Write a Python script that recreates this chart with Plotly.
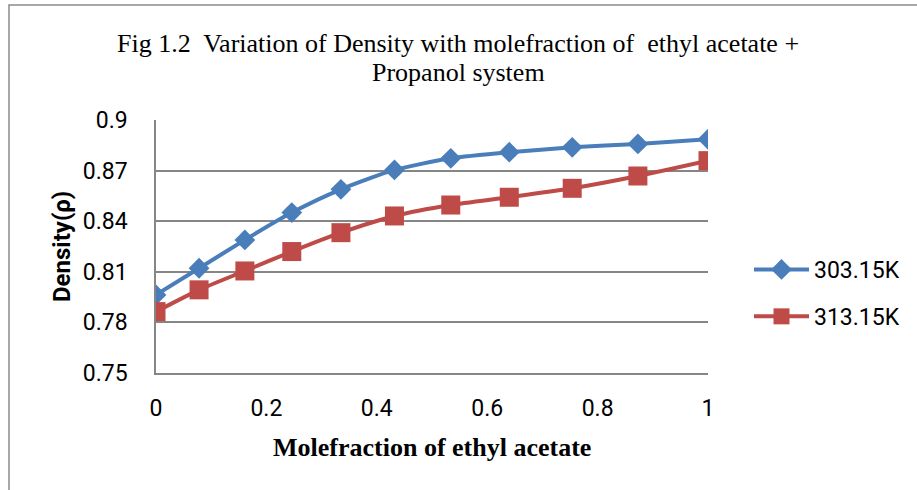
import plotly.graph_objects as go

mole_fraction = [0, 0.078, 0.161, 0.246, 0.335, 0.432, 0.534, 0.640, 0.754, 0.873, 1.0]
density_303 = [0.7963, 0.8121, 0.8289, 0.8451, 0.8589, 0.8704, 0.8773, 0.8809, 0.8838, 0.8858, 0.8886]
density_313 = [0.7864, 0.7993, 0.8105, 0.8220, 0.8332, 0.8431, 0.8496, 0.8542, 0.8595, 0.8668, 0.8759]
series_names = ["303.15K", "313.15K"]
y_ticks = [0.75, 0.78, 0.81, 0.84, 0.87, 0.9]
y_tick_text = ["0.75", "0.78", "0.81", "0.84", "0.87", "0.9"]
x_ticks = [0, 0.2, 0.4, 0.6, 0.8, 1]
x_tick_text = ["0", "0.2", "0.4", "0.6", "0.8", "1"]

blue = "#4A7EBB"
red = "#BE4B48"
grid = "#868686"

# page body margin is removed; target plot area on screen: x 156..708, y 120..373
OFF = 0
L, R, T, B = 156, 708, 120, 373
W, H = R - L, B - T


def px(x):
    return (x - L) / W


def py(y):
    return (B - y) / H


fig = go.Figure()
fig.add_trace(go.Scatter(
    x=mole_fraction, y=density_303, name=series_names[0], mode="lines+markers",
    legendgroup="a",
    line=dict(color=blue, width=4, shape="spline", smoothing=0.6),
    marker=dict(symbol="diamond", size=16, color=blue),
))
fig.add_trace(go.Scatter(
    x=mole_fraction, y=density_313, name=series_names[1], mode="lines+markers",
    legendgroup="b",
    line=dict(color=red, width=4, shape="spline", smoothing=0.6),
    marker=dict(symbol="square", size=19, color=red),
))

fig.update_layout(
    width=917, height=490,
    margin=dict(l=L - OFF, r=917 - R + OFF, t=T - OFF, b=490 - B + OFF),
    paper_bgcolor="white", plot_bgcolor="white",
    showlegend=True,
    legend=dict(
        x=px(749), y=py(293), xanchor="left", yanchor="middle",
        font=dict(family="Roboto", size=23, color="#000"),
        itemwidth=55, traceorder="grouped", tracegroupgap=14,
        bgcolor="rgba(0,0,0,0)",
    ),
    xaxis=dict(
        range=[0, 1], tickvals=x_ticks, ticktext=x_tick_text,
        showgrid=False, zeroline=False,
        showline=True, linecolor=grid, linewidth=1.5,
        ticks="", ticklabelstandoff=14,
        tickfont=dict(family="Roboto", size=23, color="#000"),
    ),
    yaxis=dict(
        range=[0.75, 0.9], tickvals=y_ticks, ticktext=y_tick_text,
        showgrid=True, gridcolor=grid, gridwidth=1.5, zeroline=False,
        showline=True, linecolor=grid, linewidth=1.5,
        ticks="", ticklabelstandoff=22,
        tickfont=dict(family="Roboto", size=23, color="#000"),
    ),
    annotations=[
        dict(text="Fig 1.2  Variation of Density with molefraction of  ethyl acetate +",
             xref="paper", yref="paper", x=px(458), y=py(44),
             xanchor="center", yanchor="middle", showarrow=False,
             font=dict(family="Liberation Serif", size=26, color="#000")),
        dict(text="Propanol system",
             xref="paper", yref="paper", x=px(458), y=py(72),
             xanchor="center", yanchor="middle", showarrow=False,
             font=dict(family="Liberation Serif", size=26, color="#000")),
        dict(text="<b>Molefraction of ethyl acetate</b>",
             xref="paper", yref="paper", x=px(432), y=py(447),
             xanchor="center", yanchor="middle", showarrow=False,
             font=dict(family="Liberation Serif", size=26, color="#000")),
        dict(text="<b>Density(ρ)</b>",
             xref="paper", yref="paper", x=px(62), y=py(247),
             xanchor="center", yanchor="middle", showarrow=False, textangle=-90,
             font=dict(family="Roboto", size=24, color="#000")),
    ],
    shapes=[
        dict(type="rect", xref="paper", yref="paper",
             x0=px(9), x1=px(930),
             y0=py(505), y1=py(5),
             line=dict(color="#8c8c8c", width=1.5), fillcolor="rgba(0,0,0,0)", layer="below"),
    ],
)

fig.write_html("out.html", config={"displayModeBar": False},
               post_script="document.body.style.margin='0';")
